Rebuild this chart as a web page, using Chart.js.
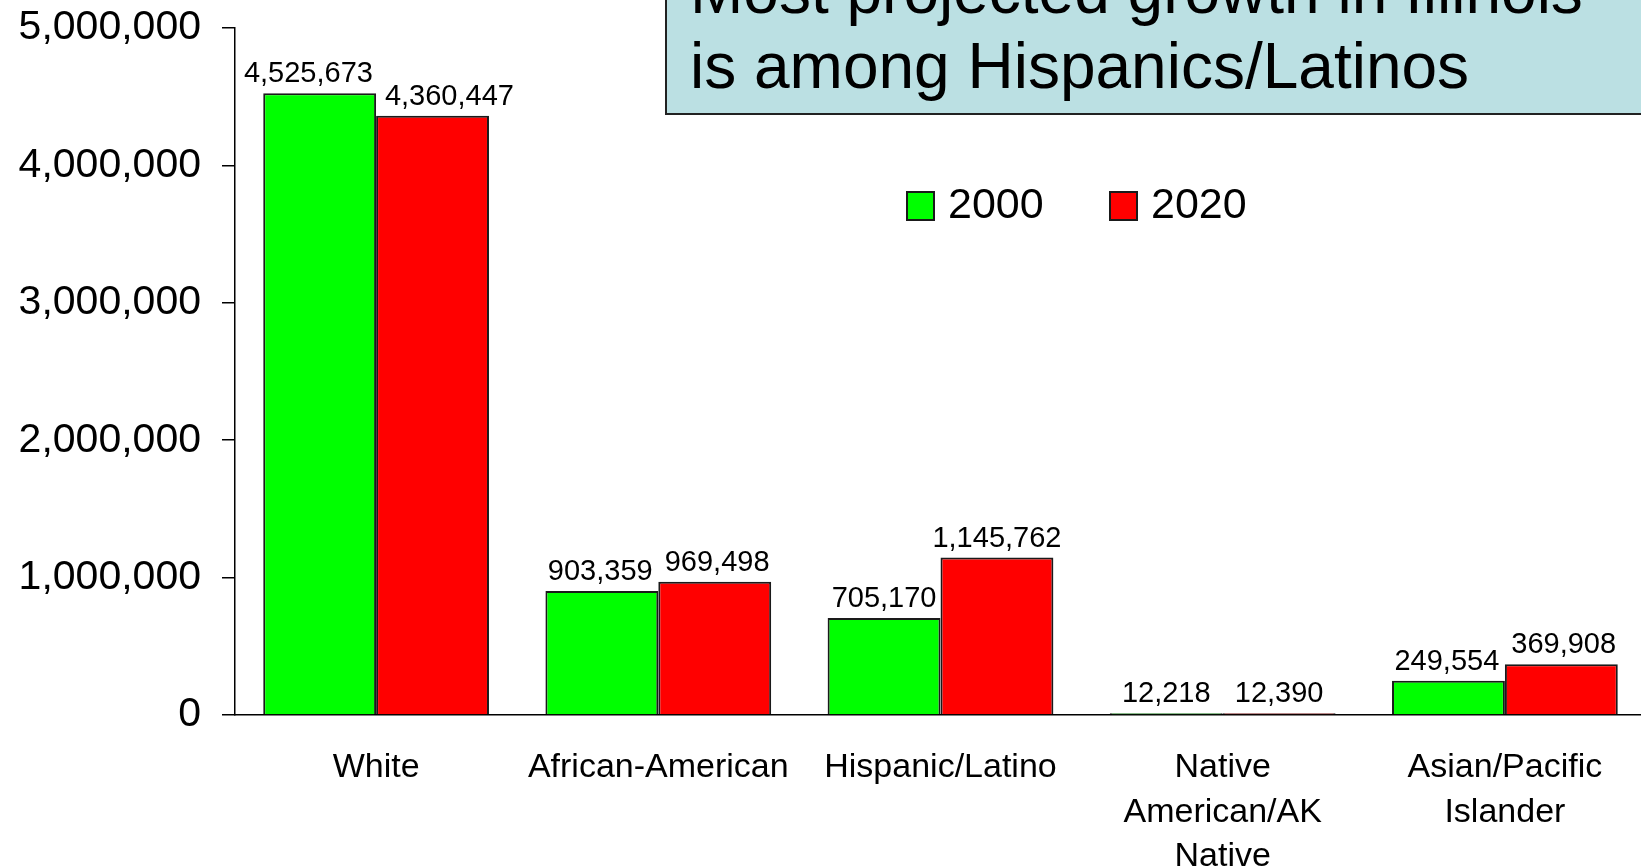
<!DOCTYPE html>
<html>
<head>
<meta charset="utf-8">
<script src="https://cdn.jsdelivr.net/npm/chart.js@4/dist/chart.umd.min.js"></script>
<style>
html, body { margin:0; padding:0; background:#fff; overflow:hidden; }
canvas { display:block; }
</style>
</head>
<body>
<canvas id="chart" width="1646" height="868"></canvas>
<script>
const categories = ["White", "African-American", "Hispanic/Latino", ["Native", "American/AK", "Native"], ["Asian/Pacific", "Islander"]]
const pop2000 = [4525673, 903359, 705170, 12218, 249554]
const pop2020 = [4360447, 969498, 1145762, 12390, 369908]
const yTicks = [0, 1000000, 2000000, 3000000, 4000000, 5000000]
const seriesNames = ["2000", "2020"]
const titleLines = ["Most projected growth in Illinois", "is among Hispanics/Latinos"]

const FONT = "'Liberation Sans', Arial, sans-serif"
const fmt = v => v.toLocaleString("en-US")

// value labels above the bars, nudged apart when a pair collides
const barLabels = {
    id: "barLabels",
    afterDatasetsDraw(chart) {
        const ctx = chart.ctx
        const m0 = chart.getDatasetMeta(0)
        const m1 = chart.getDatasetMeta(1)
        ctx.save()
        ctx.font = "29px " + FONT
        ctx.fillStyle = "#000"
        ctx.textAlign = "center"
        ctx.textBaseline = "alphabetic"
        m0.data.forEach((b0, i) => {
            const b1 = m1.data[i]
            const t0 = fmt(chart.data.datasets[0].data[i])
            const t1 = fmt(chart.data.datasets[1].data[i])
            const w0 = ctx.measureText(t0).width
            const w1 = ctx.measureText(t1).width
            let x0 = b0.x, x1 = b1.x
            const y0 = b0.y - 11, y1 = b1.y - 11
            const ox = (x0 + w0 / 2 + 12) - (x1 - w1 / 2)
            if (ox > 0 && Math.abs(y0 - y1) < 30) {
                x0 -= ox * 0.4
                x1 += ox * 0.6
            }
            ctx.fillText(t0, x0, y0)
            ctx.fillText(t1, x1, y1)
        })
        ctx.restore()
    }
}

// legend + title box drawn on top
const overlay = {
    id: "overlay",
    afterDraw(chart) {
        const ctx = chart.ctx
        ctx.save()

        ctx.font = "43px " + FONT
        ctx.textBaseline = "middle"
        ctx.textAlign = "left"
        chart.data.datasets.forEach((ds, i) => {
            const x = 907 + i * 203, y = 206
            ctx.fillStyle = ds.backgroundColor
            ctx.fillRect(x, y - 14, 27, 28)
            ctx.lineWidth = 2
            ctx.strokeStyle = "#1a1a1a"
            ctx.strokeRect(x, y - 14, 27, 28)
            ctx.fillStyle = "#000"
            ctx.fillText(ds.label, x + 41, y)
        })

        ctx.fillStyle = "#BBE0E3"
        ctx.fillRect(666, -10, 1000, 124)
        ctx.strokeStyle = "#222"
        ctx.lineWidth = 2
        ctx.strokeRect(666, -10, 1000, 124)
        ctx.fillStyle = "#000"
        ctx.font = "64px " + FONT
        ctx.textBaseline = "alphabetic"
        ctx.fillText(titleLines[0], 690, 13)
        ctx.fillText(titleLines[1], 690, 88)

        ctx.restore()
    }
}

Chart.defaults.font.family = FONT
Chart.defaults.color = "#000"

new Chart(document.getElementById("chart"), {
    type: "bar",
    data: {
        labels: categories,
        datasets: [{
            label: seriesNames[0],
            data: pop2000,
            backgroundColor: "#00FF00",
            borderColor: "#1a1a1a",
            borderWidth: 2,
            categoryPercentage: 0.8,
            barPercentage: 1.0
        }, {
            label: seriesNames[1],
            data: pop2020,
            backgroundColor: "#FF0000",
            borderColor: "#1a1a1a",
            borderWidth: 2,
            categoryPercentage: 0.8,
            barPercentage: 1.0
        }]
    },
    options: {
        responsive: false,
        animation: false,
        devicePixelRatio: 1,
        layout: { padding: { top: 28, left: 0, right: 0, bottom: 0 } },
        plugins: {
            legend: { display: false },
            tooltip: { enabled: false }
        },
        scales: {
            x: {
                grid: { display: false, drawTicks: false },
                border: { display: true, color: "#000", width: 1.5 },
                ticks: {
                    color: "#000",
                    font: { size: 34, lineHeight: 1.3 },
                    padding: 31,
                    maxRotation: 0,
                    autoSkip: false
                },
                afterFit: s => { s.height = 153 }
            },
            y: {
                min: 0,
                max: 5000000,
                afterBuildTicks: s => { s.ticks = yTicks.map(v => ({ value: v })) },
                grid: { drawOnChartArea: false, drawTicks: true, tickLength: 13, color: "#000", lineWidth: 1.5 },
                border: { display: true, color: "#000", width: 1.5 },
                ticks: {
                    color: "#000",
                    font: { size: 41 },
                    padding: 21,
                    callback: v => fmt(v)
                },
                afterFit: s => {
                    s.width = 235
                    s.paddingTop = 0
                    s.paddingBottom = 0
                }
            }
        }
    },
    plugins: [barLabels, overlay]
})
</script>
</body>
</html>
